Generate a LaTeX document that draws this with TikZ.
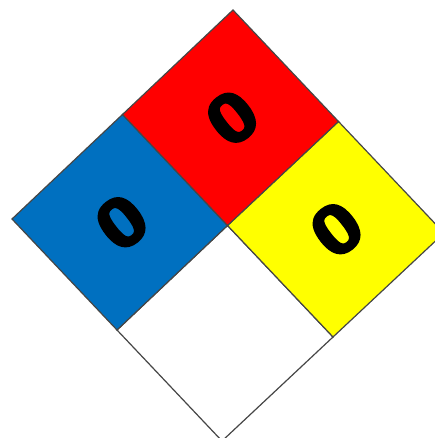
\documentclass[tikz,border=0pt]{standalone}
\usepackage{fontspec}
\usetikzlibrary{calc}
\newfontfamily\ratingfont[FakeBold=3]{Liberation Sans}
\definecolor{cHealth}{RGB}{0,112,192}
\definecolor{cFire}{RGB}{255,0,0}
\definecolor{cReact}{RGB}{255,255,0}
\definecolor{cSpecial}{RGB}{255,255,255}
\definecolor{cEdge}{RGB}{70,70,70}

\begin{document}
\begin{tikzpicture}[x=1pt, y=-1pt,
        quad/.style={draw=cEdge, line width=1.2pt, line join=miter},
        rating/.style={font=\ratingfont\bfseries\fontsize{70}{70}\selectfont,
        inner sep=0pt, rotate=38, xscale=1.15}
    ]
        \useasboundingbox (0,0) rectangle (435,438);
        \clip (0,0) rectangle (435,438);

        % --- corners of the diamond ---
        \coordinate (top)    at (233,10);
        \coordinate (left)   at (12,219);
        \coordinate (bottom) at (222,441);
        \coordinate (right)  at (444,233);
        \coordinate (mid)    at ($(top)!0.5!(bottom)$);
        \coordinate (tl) at ($(top)!0.5!(left)$);
        \coordinate (tr) at ($(top)!0.5!(right)$);
        \coordinate (bl) at ($(bottom)!0.5!(left)$);
        \coordinate (br) at ($(bottom)!0.5!(right)$);

        % --- quadrants ---
        \draw[quad, fill=cSpecial] (mid) -- (bl) -- (bottom) -- (br) -- cycle;
        \draw[quad, fill=cHealth]  (left) -- (tl) -- (mid) -- (bl) -- cycle;
        \draw[quad, fill=cReact]   (mid) -- (tr) -- (right) -- (br) -- cycle;
        \draw[quad, fill=cFire]    (top) -- (tr) -- (mid) -- (tl) -- cycle;

        % --- ratings ---
        \node[rating] (health) at ($(left)!0.5!(mid)+(2,0)$)  {0};
        \node[rating] (fire)   at ($(top)!0.5!(mid)+(2,0)$)   {0};
        \node[rating] (react)  at ($(right)!0.5!(mid)+(1,0)$) {0};

    \end{tikzpicture}
\end{document}
